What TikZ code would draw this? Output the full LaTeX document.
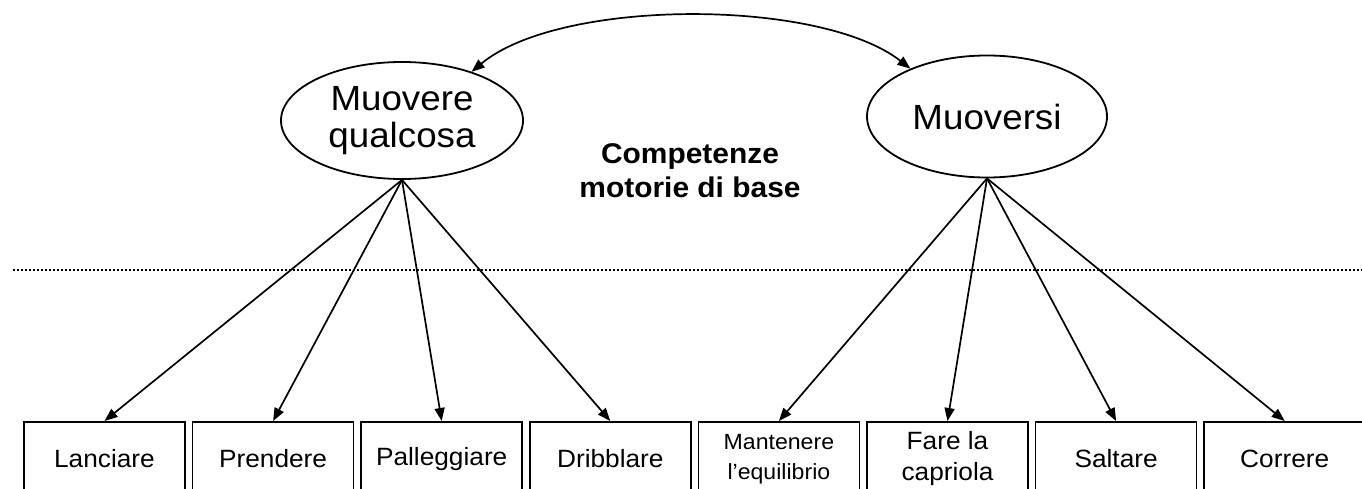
\documentclass[tikz,border=0pt]{standalone}
\usepackage{fontspec}
\setmainfont[FakeStretch=1.05]{Liberation Sans}
\usetikzlibrary{shapes.geometric,arrows.meta}
\begin{document}
\begin{tikzpicture}[x=1pt,y=-1pt,
  oval/.style={draw, ellipse, line width=1.8pt, inner sep=0pt, align=center, font=\fontsize{35}{37}\selectfont},
  boxnode/.style={draw, rectangle, line width=1.7pt, minimum width=161pt, minimum height=74pt, inner sep=0pt, anchor=north, align=center, font=\fontsize{25}{31}\selectfont},
  conn/.style={line width=1.7pt, -{Triangle[length=13pt,width=10pt]}},
  dconn/.style={line width=1.7pt, {Triangle[length=13pt,width=10pt]}-{Triangle[length=13pt,width=10pt]}},
  sepline/.style={line width=2.6pt, dash pattern=on 2.4pt off 1.6pt},
  title/.style={align=center, font=\bfseries\fontsize{28.5}{34}\selectfont}
]
\useasboundingbox (0,0) rectangle (1362,489);

\node[oval, minimum width=242pt, minimum height=117pt] (m1) at (402,120.5) {Muovere\\qualcosa};
\node[oval, minimum width=240pt, minimum height=122pt] (m2) at (987,116.5) {Muoversi};

\node[title] (t) at (690,171) {Competenze\\motorie di base};

\coordinate (dl) at (13,270);
\coordinate (dr) at (1362,270);
\draw[sepline] (dl) -- (dr);

\node[boxnode] (b1) at (104.5,421) {Lanciare};
\node[boxnode] (b2) at (273.1,421) {Prendere};
\node[boxnode] (b3) at (441.7,421) {Palleggiare};
\node[boxnode] (b4) at (610.3,421) {Dribblare};
\node[boxnode, font=\fontsize{22}{30}\selectfont] (b5) at (778.9,421) {Mantenere\\l’equilibrio};
\node[boxnode] (b6) at (947.5,421) {Fare la\\capriola};
\node[boxnode] (b7) at (1116.1,421) {Saltare};
\node[boxnode] (b8) at (1284.7,421) {Correre};

\foreach \b in {b1,b2,b3,b4} \draw[conn] (m1.south) -- (\b.north);
\foreach \b in {b5,b6,b7,b8} \draw[conn] (m2.south) -- (\b.north);

\draw[dconn] (m1.35) .. controls (560,-2) and (820,-2) .. (m2.148);
\end{tikzpicture}
\end{document}
